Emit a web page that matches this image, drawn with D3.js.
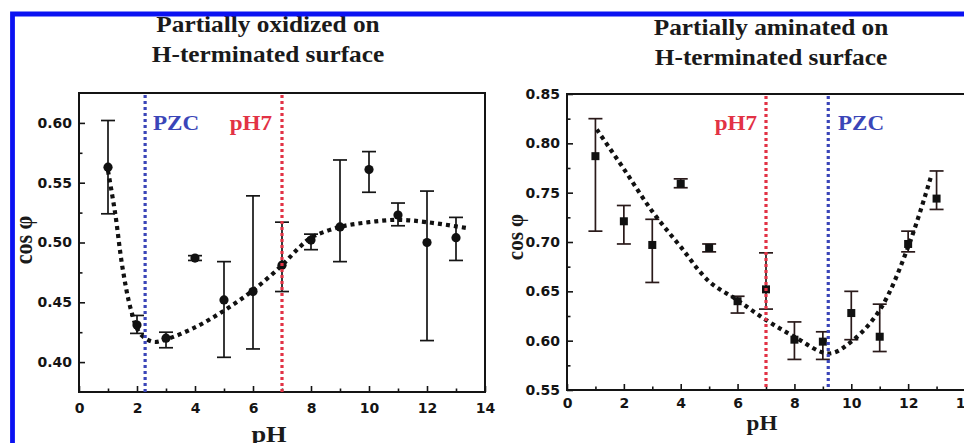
<!DOCTYPE html>
<html>
  <head>
    <meta charset="UTF-8">
    <title>cos phi versus pH</title>
    <style>
      body { margin: 0; background: #fff; }
      svg { display: block; }
      .tick text { font-family: "DejaVu Sans", "Liberation Sans", Arial, sans-serif; font-weight: bold; font-size: 14px; fill: #141414; }
      .serif { font-family: "Liberation Serif", "Times New Roman", serif; font-weight: bold; }
    </style>
  </head>
  <body>
    <div id="chart"></div>

    <script src="https://d3js.org/d3.v7.min.js"></script>
    <script>

/* DATA */

// left panel: partially oxidized on H-terminated surface
var oxPH   = [1, 2, 3, 4, 5, 6, 7, 8, 9, 10, 11, 12, 13];
var oxCos  = [0.563, 0.431, 0.420, 0.487, 0.452, 0.459, 0.481, 0.502, 0.513, 0.561, 0.523, 0.500, 0.504];
var oxLow  = [0.524, 0.424, 0.412, 0.485, 0.404, 0.411, 0.459, 0.494, 0.484, 0.542, 0.514, 0.418, 0.485];
var oxHigh = [0.602, 0.439, 0.425, 0.489, 0.484, 0.539, 0.517, 0.507, 0.569, 0.576, 0.533, 0.543, 0.521];
var oxFitPH  = [1.0, 1.25, 1.5, 1.8, 2.1, 2.55, 3.0, 4.0, 5.0, 6.0, 7.0, 7.6, 8.0, 9.0, 10.0, 11.0, 12.0, 13.4];
var oxFitCos = [0.560, 0.524, 0.479, 0.443, 0.424, 0.417, 0.419, 0.429, 0.443, 0.460, 0.481, 0.496, 0.504, 0.513, 0.517, 0.519, 0.517, 0.512];
var oxPZC = 2.28;

// right panel: partially aminated on H-terminated surface
var amPH   = [1, 2, 3, 4, 5, 6, 7, 8, 9, 10, 11, 12, 13];
var amCos  = [0.787, 0.721, 0.697, 0.759, 0.694, 0.640, 0.652, 0.601, 0.599, 0.628, 0.604, 0.698, 0.744];
var amLow  = [0.711, 0.698, 0.659, 0.755, 0.690, 0.628, 0.632, 0.581, 0.581, 0.601, 0.589, 0.690, 0.733];
var amHigh = [0.825, 0.737, 0.723, 0.764, 0.698, 0.645, 0.689, 0.619, 0.609, 0.650, 0.637, 0.711, 0.772];
var amFitPH  = [1.05, 2.0, 3.0, 4.0, 5.0, 6.0, 7.0, 8.0, 9.2, 10.0, 11.0, 12.0, 12.8];
var amFitCos = [0.814, 0.774, 0.731, 0.695, 0.660, 0.641, 0.621, 0.604, 0.587, 0.599, 0.631, 0.695, 0.766];
var amPZC = 9.19;

var neutralPH = 7;

var xMajor = [0, 2, 4, 6, 8, 10, 12, 14];
var xMinor = [1, 3, 5, 7, 9, 11, 13];
var oxYMajor = [0.40, 0.45, 0.50, 0.55, 0.60];
var oxYMinor = [0.425, 0.475, 0.525, 0.575];
var amYMajor = [0.55, 0.60, 0.65, 0.70, 0.75, 0.80, 0.85];
var amYMinor = [0.575, 0.625, 0.675, 0.725, 0.775, 0.825];

var blue = "#3a45b8", red = "#e23245";

var W = 964, H = 443;

var svg = d3.select("#chart").append("svg")
    .attr("width", W)
    .attr("height", H);

svg.append("rect").attr("width", W).attr("height", H).attr("fill", "#fff");

var panels = [
  {
    title: ["Partially oxidized on", "H-terminated surface"], titleX: 268, titleY: 32,
    left: 79, right: 485, top: 93, bottom: 392, yDomain: [0.375, 0.625],
    yMajor: oxYMajor, yMinor: oxYMinor, xPad: 11,
    ph: oxPH, cos: oxCos, low: oxLow, high: oxHigh, fitPH: oxFitPH, fitCos: oxFitCos,
    marker: "circle", errColor: "#151515",
    refs: [
      {v: oxPZC, color: blue, text: "PZC", anchor: "start", tx: 153},
      {v: neutralPH, color: red, text: "pH7", anchor: "end", tx: 272}
    ],
    yLab: {x: 32, y: 240, size: 22}, xLab: {x: 269, y: 442, size: 24}
  },
  {
    title: ["Partially aminated on", "H-terminated surface"], titleX: 771, titleY: 35,
    left: 567, right: 965, top: 94, bottom: 390, yDomain: [0.55, 0.85],
    yMajor: amYMajor, yMinor: amYMinor, xPad: 8,
    ph: amPH, cos: amCos, low: amLow, high: amHigh, fitPH: amFitPH, fitCos: amFitCos,
    marker: "square", errColor: "#2a1a1a",
    refs: [
      {v: neutralPH, color: red, text: "pH7", anchor: "end", tx: 757},
      {v: amPZC, color: blue, text: "PZC", anchor: "start", tx: 838}
    ],
    yLab: {x: 523, y: 237, size: 21}, xLab: {x: 762, y: 430, size: 21}
  }
];

panels.forEach(function(p){
  var x = d3.scaleLinear().domain([0, 14]).range([p.left, p.right]);
  var y = d3.scaleLinear().domain(p.yDomain).range([p.bottom, p.top]);
  var g = svg.append("g");

  // title, two lines
  p.title.forEach(function(t, i){
    g.append("text")
      .attr("class", "serif")
      .attr("text-anchor", "middle")
      .attr("font-size", 23)
      .attr("fill", "#1a1a1a")
      .attr("transform", "translate(" + p.titleX + "," + (p.titleY + i * 30) + ") scale(1.1,1)")
      .text(t);
  });

  // axes, ticks point inward
  g.append("g").attr("transform", "translate(0," + p.bottom + ")")
    .call(d3.axisBottom(x).tickValues(xMajor).tickSize(-6).tickPadding(p.xPad).tickFormat(d3.format("d")));
  g.append("g").attr("transform", "translate(0," + p.bottom + ")")
    .call(d3.axisBottom(x).tickValues(xMinor).tickSize(-3.5).tickFormat(""));
  g.append("g").attr("transform", "translate(" + p.left + ",0)")
    .call(d3.axisLeft(y).tickValues(p.yMajor).tickSize(-6).tickPadding(7).tickFormat(d3.format(".2f")));
  g.append("g").attr("transform", "translate(" + p.left + ",0)")
    .call(d3.axisLeft(y).tickValues(p.yMinor).tickSize(-3.5).tickFormat(""));
  g.selectAll(".domain").remove();
  g.selectAll(".tick line").attr("stroke", "#141414").attr("stroke-width", 1.6);

  // frame
  g.append("rect")
    .attr("x", p.left).attr("y", p.top)
    .attr("width", p.right - p.left).attr("height", p.bottom - p.top)
    .attr("fill", "none").attr("stroke", "#141414").attr("stroke-width", 2);

  // axis titles
  g.append("text")
    .attr("class", "serif")
    .attr("text-anchor", "middle")
    .attr("font-size", p.yLab.size)
    .attr("fill", "#1a1a1a")
    .attr("transform", "translate(" + p.yLab.x + "," + p.yLab.y + ") rotate(-90) scale(1,1.1)")
    .text("cos \u03C6");
  g.append("text")
    .attr("class", "serif")
    .attr("text-anchor", "middle")
    .attr("font-size", p.xLab.size)
    .attr("fill", "#1a1a1a")
    .attr("transform", "translate(" + p.xLab.x + "," + p.xLab.y + ") scale(1.1,1)")
    .text("pH");

  var pts = p.ph.map(function(v, i){
    return {ph: v, cos: p.cos[i], low: p.low[i], high: p.high[i]};
  });

  // error bars
  var eb = g.append("g").attr("stroke", p.errColor).attr("stroke-width", 1.7);
  pts.forEach(function(d){
    var cx = x(d.ph);
    eb.append("line").attr("x1", cx).attr("x2", cx).attr("y1", y(d.low)).attr("y2", y(d.high));
    [d.low, d.high].forEach(function(v){
      eb.append("line").attr("x1", cx - 7).attr("x2", cx + 7).attr("y1", y(v)).attr("y2", y(v));
    });
  });

  // fitted trend, thick dotted
  var fit = p.fitPH.map(function(v, i){ return [v, p.fitCos[i]]; });
  g.append("path")
    .datum(fit)
    .attr("fill", "none")
    .attr("stroke", "#111")
    .attr("stroke-width", 4.2)
    .attr("stroke-dasharray", "4 4")
    .attr("d", d3.line().x(function(d){ return x(d[0]); }).y(function(d){ return y(d[1]); }).curve(d3.curveCatmullRom));

  // markers
  if (p.marker == "circle") {
    g.selectAll(".pt").data(pts).enter().append("circle")
      .attr("cx", function(d){ return x(d.ph); })
      .attr("cy", function(d){ return y(d.cos); })
      .attr("r", 4.6)
      .attr("fill", "#111");
  } else {
    g.selectAll(".pt").data(pts).enter().append("rect")
      .attr("x", function(d){ return x(d.ph) - 4; })
      .attr("y", function(d){ return y(d.cos) - 4; })
      .attr("width", 8).attr("height", 8)
      .attr("fill", "#111");
  }

  // PZC and pH 7 reference lines, on top
  p.refs.forEach(function(r){
    g.append("line")
      .attr("x1", x(r.v)).attr("x2", x(r.v))
      .attr("y1", p.top + 2).attr("y2", p.bottom)
      .attr("stroke", r.color)
      .attr("stroke-width", 3.2)
      .attr("stroke-dasharray", "3 3");
    g.append("text")
      .attr("class", "serif")
      .attr("text-anchor", r.anchor)
      .attr("font-size", 21)
      .attr("fill", r.color)
      .attr("transform", "translate(" + r.tx + ",130) scale(1.1,1)")
      .text(r.text);
  });
});

// blue frame round the figure (top and left edges)
svg.append("path")
  .attr("d", "M12.5," + H + "V14H" + W)
  .attr("fill", "none")
  .attr("stroke", "#0b12f2")
  .attr("stroke-width", 4.8);

    </script>
  </body>
</html>
